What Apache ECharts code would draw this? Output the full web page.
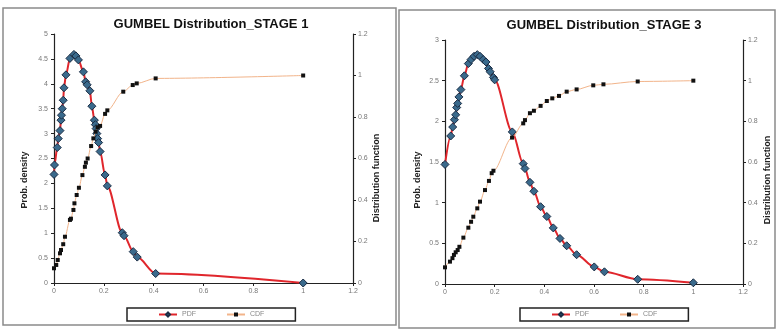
<!DOCTYPE html>
<html>
<head>
<meta charset="utf-8">
<script src="https://cdn.jsdelivr.net/npm/echarts@6/dist/echarts.min.js"></script>
<style>
  html, body { margin: 0; padding: 0; background: #fff; }
  #chart { width: 778px; height: 332px; }
</style>
</head>
<body>
<div id="chart"></div>
<script>
// stage 1 values, [x, value]
const stage1Pdf = [
  [0, 2.18], [0.002, 2.37], [0.013, 2.72], [0.017, 2.9], [0.024, 3.06], [0.028, 3.27],
  [0.03, 3.37], [0.033, 3.5], [0.037, 3.67], [0.04, 3.92], [0.048, 4.18], [0.064, 4.51],
  [0.08, 4.59], [0.088, 4.56], [0.098, 4.48], [0.118, 4.24], [0.127, 4.04], [0.133, 3.98],
  [0.144, 3.86], [0.152, 3.55], [0.162, 3.27], [0.166, 3.18], [0.169, 3.1], [0.172, 3.0],
  [0.175, 2.9], [0.179, 2.82], [0.185, 2.64], [0.205, 2.17], [0.214, 1.95], [0.274, 1.01],
  [0.281, 0.95], [0.318, 0.63], [0.334, 0.52], [0.408, 0.19], [1, 0]
];
const stage1Cdf = [
  [0, 0.071], [0.009, 0.087], [0.015, 0.111], [0.024, 0.143], [0.028, 0.159], [0.037, 0.187],
  [0.044, 0.223], [0.064, 0.304], [0.068, 0.31], [0.078, 0.352], [0.082, 0.384], [0.091, 0.424],
  [0.1, 0.459], [0.114, 0.52], [0.124, 0.56], [0.128, 0.58], [0.135, 0.6], [0.149, 0.66],
  [0.158, 0.697], [0.167, 0.729], [0.175, 0.75], [0.185, 0.757], [0.205, 0.815], [0.214, 0.832],
  [0.278, 0.922], [0.316, 0.954], [0.332, 0.962], [0.408, 0.986], [1, 1.0]
];
// stage 3 values
const stage3Pdf = [
  [0, 1.47], [0.023, 1.82], [0.031, 1.93], [0.038, 2.02], [0.043, 2.08], [0.047, 2.17],
  [0.051, 2.22], [0.056, 2.3], [0.064, 2.39], [0.078, 2.56], [0.094, 2.71], [0.105, 2.76],
  [0.117, 2.8], [0.13, 2.82], [0.141, 2.8], [0.154, 2.76], [0.165, 2.73], [0.175, 2.65],
  [0.182, 2.61], [0.195, 2.54], [0.2, 2.51], [0.271, 1.87], [0.315, 1.48], [0.322, 1.42],
  [0.342, 1.25], [0.358, 1.14], [0.385, 0.95], [0.41, 0.83], [0.436, 0.69], [0.463, 0.56],
  [0.49, 0.47], [0.53, 0.36], [0.601, 0.21], [0.642, 0.15], [0.776, 0.058], [1, 0.015]
];
const stage3Cdf = [
  [0, 0.082], [0.02, 0.11], [0.03, 0.127], [0.036, 0.143], [0.043, 0.156], [0.051, 0.167],
  [0.058, 0.183], [0.074, 0.228], [0.094, 0.277], [0.105, 0.306], [0.114, 0.331], [0.13, 0.372],
  [0.141, 0.405], [0.161, 0.462], [0.177, 0.507], [0.188, 0.545], [0.195, 0.557], [0.27, 0.72],
  [0.315, 0.79], [0.322, 0.806], [0.342, 0.84], [0.358, 0.852], [0.385, 0.876], [0.41, 0.9],
  [0.432, 0.913], [0.459, 0.925], [0.49, 0.946], [0.53, 0.957], [0.597, 0.977], [0.638, 0.982],
  [0.776, 0.996], [1, 1.0]
];
const titles = ['GUMBEL Distribution_STAGE 1', 'GUMBEL Distribution_STAGE 3'];
const pdfMax = [5, 3];

const FONT = 'Liberation Sans';
const labelStyle = { color: '#777', fontSize: 7, fontFamily: FONT };

function xAxisFor(i) {
  return {
    type: 'value', gridIndex: i, min: 0, max: 1.2, interval: 0.2,
    axisLine: { show: true, lineStyle: { color: '#222', width: 1.2 } },
    axisTick: { show: true, length: 3, lineStyle: { color: '#222' } },
    axisLabel: Object.assign({ margin: 5 }, labelStyle),
    splitLine: { show: false }
  };
}
function leftAxisFor(i) {
  return {
    type: 'value', gridIndex: i, min: 0, max: pdfMax[i], interval: 0.5,
    axisLine: { show: true, lineStyle: { color: '#222', width: 1.2 } },
    axisTick: { show: true, length: 3, lineStyle: { color: '#222' } },
    axisLabel: Object.assign({ margin: 6 }, labelStyle),
    splitLine: { show: false }
  };
}
function rightAxisFor(i) {
  return {
    type: 'value', gridIndex: i, position: 'right', min: 0, max: 1.2, interval: 0.2,
    axisLine: { show: true, lineStyle: { color: '#222', width: 1.2 } },
    axisTick: { show: true, length: 3, lineStyle: { color: '#222' } },
    axisLabel: Object.assign({ margin: 5 }, labelStyle),
    splitLine: { show: false }
  };
}
function pdfSeries(i, data) {
  return {
    name: 'PDF', type: 'line', xAxisIndex: i, yAxisIndex: i * 2,
    data: data, smooth: 0.3, smoothMonotone: 'x',
    symbol: 'diamond', symbolSize: 8,
    lineStyle: { color: '#e0262c', width: 2 },
    itemStyle: { color: '#3a6a8c', borderColor: '#1a2c44', borderWidth: 1 },
    z: 2
  };
}
function cdfSeries(i, data) {
  return {
    name: 'CDF', type: 'line', xAxisIndex: i, yAxisIndex: i * 2 + 1,
    data: data, smooth: 0.3, smoothMonotone: 'x',
    symbol: 'rect', symbolSize: 4,
    lineStyle: { color: '#f2b48a', width: 1 },
    itemStyle: { color: '#111' },
    z: 3
  };
}
function legendFor(left) {
  return {
    left: left, top: 308, orient: 'horizontal',
    data: ['PDF', 'CDF'],
    itemWidth: 18, itemHeight: 5, itemGap: 30,
    padding: [3, 31, 3, 31],
    borderColor: '#222', borderWidth: 1.5,
    textStyle: { color: '#888', fontSize: 7, fontFamily: FONT },
    selectedMode: false
  };
}
function axisName(text, x, y) {
  return {
    type: 'text', x: x, y: y, rotation: Math.PI / 2,
    style: { text: text, fill: '#222', font: 'bold 9px ' + FONT, align: 'center', verticalAlign: 'middle' }
  };
}

const chart = echarts.init(document.getElementById('chart'), null, { renderer: 'canvas' });
chart.setOption({
  backgroundColor: '#fff',
  animation: false,
  title: [
    { text: titles[0], left: 206, top: 13, textAlign: 'center',
      textStyle: { fontFamily: FONT, fontSize: 13, fontWeight: 'bold', color: '#111' } },
    { text: titles[1], left: 599, top: 14, textAlign: 'center',
      textStyle: { fontFamily: FONT, fontSize: 13, fontWeight: 'bold', color: '#111' } }
  ],
  grid: [
    { left: 54, right: 425, top: 34, bottom: 49 },
    { left: 445, right: 35, top: 40, bottom: 48 }
  ],
  legend: [legendFor(127), legendFor(520)],
  xAxis: [xAxisFor(0), xAxisFor(1)],
  yAxis: [leftAxisFor(0), rightAxisFor(0), leftAxisFor(1), rightAxisFor(1)],
  series: [
    pdfSeries(0, stage1Pdf), cdfSeries(0, stage1Cdf),
    pdfSeries(1, stage3Pdf), cdfSeries(1, stage3Cdf)
  ],
  graphic: [
    { type: 'rect', shape: { x: 3, y: 8, width: 393, height: 317 }, style: { fill: null, stroke: '#8a8a8a', lineWidth: 1.5 }, silent: true },
    { type: 'rect', shape: { x: 399, y: 10, width: 376, height: 318 }, style: { fill: null, stroke: '#8a8a8a', lineWidth: 1.5 }, silent: true },
    axisName('Prob. density', 25, 180),
    axisName('Distribution function', 377, 178),
    axisName('Prob. density', 418, 180),
    axisName('Distribution function', 768, 180)
  ]
});
</script>
</body>
</html>
